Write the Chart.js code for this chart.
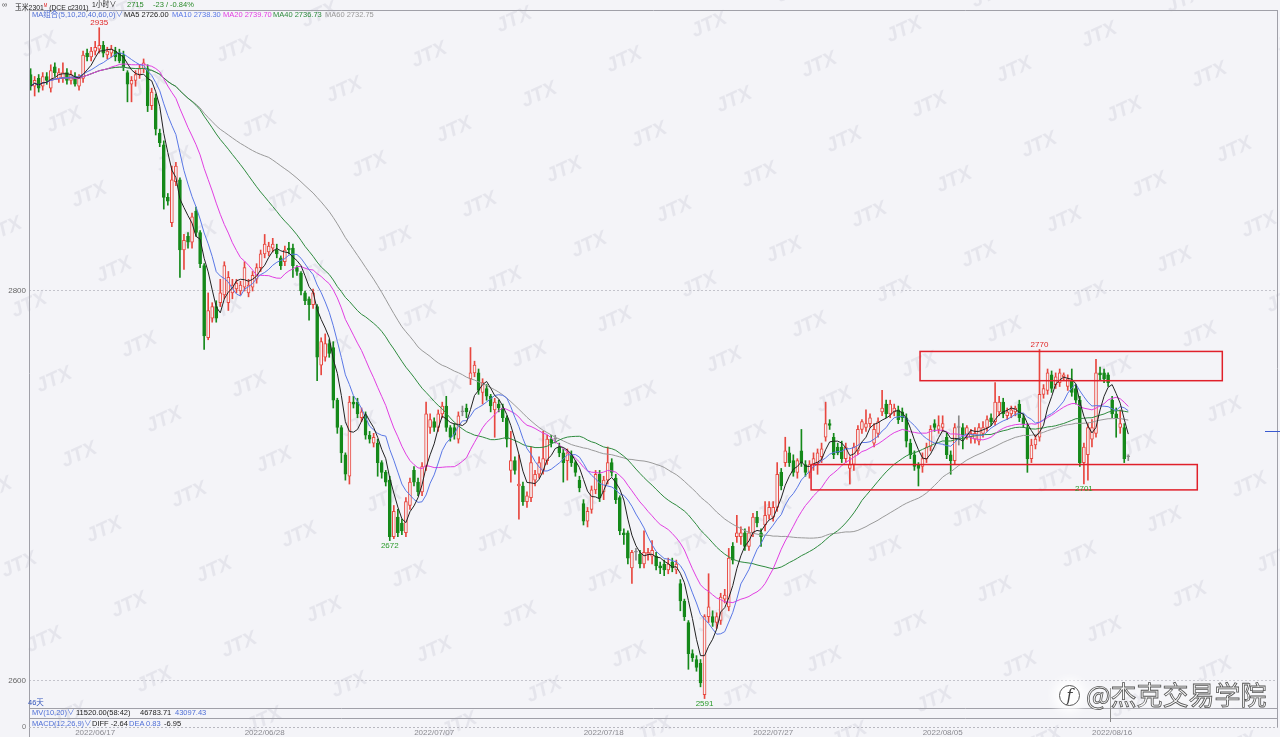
<!DOCTYPE html>
<html>
<head>
<meta charset="utf-8">
<script src="https://cdn.jsdelivr.net/npm/chart.js@4.4.0/dist/chart.umd.min.js"></script>
<style>
  html, body { margin: 0; padding: 0; background: #f4f4f8; overflow: hidden; }
  #wrap { position: relative; width: 1280px; height: 737px; }
  canvas { position: absolute; left: 0; top: 0; }
  .t { position: absolute; white-space: nowrap; font: 7.5px 'Liberation Sans', 'Noto Sans CJK SC', sans-serif; line-height: 10px; color: #222; }
  .sq { transform: scaleX(0.85); transform-origin: left center; font-size: 8px; }
  .blue { color: #4f6fd6; }
  .brand { position: absolute; left: 1086px; top: 679px; white-space: nowrap; font: 26px 'Noto Sans CJK SC', sans-serif; line-height: 30px;
           color: #f6f6f6; -webkit-text-stroke: 0.8px #555; text-shadow: 0 0 10px rgba(255,255,255,1); }
  .logo { position: absolute; left: 1059px; top: 685px; width: 19px; height: 19px; border: 1.5px solid #555; border-radius: 50%;
          background: #fff; box-shadow: 0 0 10px 6px rgba(255,255,255,0.9);
          font: italic 16px 'DejaVu Serif', serif; line-height: 19px; text-align: center; color: #444; }
</style>
</head>
<body>
<div id="wrap">
  <canvas id="kline" width="1280" height="737"></canvas>

  <div class="t" style="left:2px;top:0;color:#555">∞</div>
  <div class="t sq" style="left:15px;top:0">玉米2301<span style="color:#d22;font-size:5px;vertical-align:3px">M</span> (DCE c2301)</div>
  <div class="t sq" style="left:92px;top:0">1小时∨</div>
  <div class="t" style="left:127px;top:0;color:#2a8a2a">2715</div>
  <div class="t" style="left:153px;top:0;color:#2a8a2a">-23 / -0.84%</div>

  <div class="t blue" style="left:32px;top:10px">MA组合(5,10,20,40,60,0)∨</div>
  <div class="t" style="left:124px;top:10px">MA5 2726.00</div>
  <div class="t" style="left:172px;top:10px;color:#5a78e6">MA10 2738.30</div>
  <div class="t" style="left:223px;top:10px;color:#e23ee2">MA20 2739.70</div>
  <div class="t" style="left:273px;top:10px;color:#2e8b3e">MA40 2736.73</div>
  <div class="t" style="left:325px;top:10px;color:#999">MA60 2732.75</div>

  <div class="t" style="left:28px;top:698px;color:#3355bb">46天</div>
  <div class="t blue" style="left:32px;top:708px">MV(10,20)∨</div>
  <div class="t" style="left:76px;top:708px">11520.00(58:42)</div>
  <div class="t" style="left:140px;top:708px">46783.71</div>
  <div class="t blue" style="left:175px;top:708px">43097.43</div>
  <div class="t blue" style="left:32px;top:719px">MACD(12,26,9)∨</div>
  <div class="t" style="left:92px;top:719px">DIFF -2.64</div>
  <div class="t blue" style="left:129px;top:719px">DEA 0.83</div>
  <div class="t" style="left:164px;top:719px">-6.95</div>
  <div class="t" style="left:22px;top:722px;color:#777">0</div>

  <div class="logo">f</div>
  <div class="brand">@杰克交易学院</div>
</div>

<script>
// hourly bars, one entry per candle (index 0 = first bar on screen)
const opens = [
  2911,2905,2909,2905,2910,2904,2915,2909,2909,2912,
  2908,2910,2905,2909,2922,2920,2923,2924,2926,2921,
  2922,2923,2922,2921,2912,2906,2908,2911,2914,2914,
  2895,2899,2881,2875,2848,2835,2856,2857,2821,2828,
  2825,2841,2830,2813,2776,2786,2792,2794,2798,2794,
  2799,2801,2800,2802,2799,2802,2806,2812,2819,2820,
  2822,2821,2817,2815,2822,2822,2812,2809,2799,2796,
  2793,2792,2762,2766,2773,2771,2744,2730,2716,2705,
  2743,2743,2735,2736,2726,2722,2722,2712,2707,2703,
  2674,2684,2681,2676,2690,2708,2702,2697,2710,2730,
  2733,2730,2737,2741,2730,2730,2724,2738,2740,2755,
  2758,2758,2748,2750,2746,2739,2742,2740,2735,2708,
  2713,2700,2700,2692,2694,2703,2706,2708,2713,2724,
  2724,2720,2717,2713,2716,2712,2703,2691,2682,2688,
  2698,2706,2697,2703,2712,2704,2694,2676,2676,2658,
  2666,2665,2660,2665,2664,2664,2659,2660,2657,2661,
  2657,2650,2641,2630,2614,2611,2609,2593,2633,2633,
  2630,2631,2642,2638,2669,2674,2674,2676,2669,2676,
  2684,2676,2680,2685,2684,2689,2707,2712,2717,2713,
  2707,2718,2711,2707,2711,2712,2715,2725,2732,2725,
  2720,2720,2714,2709,2711,2718,2729,2730,2732,2722,
  2727,2738,2742,2737,2738,2739,2738,2735,2722,2716,
  2711,2710,2714,2720,2732,2729,2730,2725,2716,2713,
  2730,2730,2726,2725,2724,2723,2727,2730,2735,2733,
  2738,2743,2736,2737,2738,2742,2735,2730,2714,2721,
  2725,2747,2749,2757,2752,2753,2756,2751,2754,2750,
  2744,2712,2716,2724,2727,2758,2758,2757,2744,2737,2730,2730,2715
];
const highs = [
  2914,2910,2911,2912,2912,2916,2917,2914,2917,2914,
  2913,2912,2911,2923,2924,2925,2928,2935,2928,2925,
  2926,2925,2924,2923,2913,2910,2913,2916,2919,2916,
  2904,2901,2883,2877,2850,2864,2866,2858,2829,2830,
  2840,2843,2831,2814,2799,2794,2795,2806,2815,2810,
  2806,2806,2805,2815,2806,2810,2814,2821,2829,2825,
  2827,2824,2818,2823,2825,2824,2813,2810,2800,2797,
  2801,2793,2776,2778,2775,2774,2745,2731,2717,2746,
  2746,2745,2740,2738,2728,2727,2724,2713,2708,2705,
  2690,2688,2683,2694,2704,2710,2704,2712,2743,2737,
  2735,2739,2743,2746,2731,2732,2738,2741,2742,2771,
  2764,2760,2755,2752,2747,2745,2744,2742,2736,2728,
  2715,2716,2702,2697,2720,2708,2715,2728,2726,2726,
  2726,2722,2719,2719,2718,2713,2705,2693,2689,2700,
  2708,2708,2705,2720,2714,2706,2695,2678,2677,2667,
  2668,2667,2677,2668,2672,2666,2661,2662,2663,2663,
  2662,2652,2642,2631,2616,2613,2611,2634,2655,2636,
  2635,2645,2647,2668,2671,2685,2679,2678,2679,2686,
  2687,2678,2692,2692,2692,2712,2709,2725,2720,2716,
  2714,2729,2713,2713,2717,2719,2722,2743,2734,2727,
  2722,2723,2722,2715,2722,2731,2734,2739,2737,2732,
  2735,2749,2744,2744,2742,2741,2740,2737,2724,2718,
  2712,2717,2722,2731,2734,2736,2736,2727,2718,2732,
  2736,2732,2731,2729,2730,2732,2733,2736,2737,2753,
  2746,2745,2740,2741,2741,2744,2737,2732,2724,2726,
  2770,2752,2760,2759,2758,2760,2758,2757,2760,2752,
  2746,2722,2732,2734,2765,2761,2760,2758,2746,2740,2739,2732,2716
];
const lows = [
  2903,2900,2902,2903,2906,2902,2910,2907,2907,2906,
  2906,2905,2903,2907,2918,2918,2921,2922,2920,2919,
  2920,2918,2917,2913,2897,2897,2905,2909,2912,2892,
  2893,2880,2874,2842,2844,2833,2854,2807,2811,2822,
  2822,2828,2812,2770,2775,2784,2784,2792,2796,2790,
  2796,2799,2798,2800,2797,2800,2804,2810,2817,2818,
  2820,2817,2811,2813,2819,2807,2808,2798,2793,2785,
  2791,2754,2757,2764,2766,2740,2727,2712,2703,2701,
  2740,2735,2733,2724,2722,2720,2705,2704,2700,2672,
  2673,2674,2675,2674,2688,2700,2695,2695,2708,2727,
  2728,2728,2735,2728,2723,2724,2722,2736,2735,2752,
  2756,2747,2742,2744,2738,2725,2738,2733,2720,2702,
  2706,2683,2690,2689,2692,2700,2704,2706,2711,2720,
  2722,2715,2702,2703,2710,2705,2697,2680,2679,2686,
  2696,2692,2693,2701,2705,2691,2675,2670,2660,2650,
  2662,2658,2658,2662,2660,2657,2655,2654,2655,2656,
  2655,2636,2631,2606,2610,2605,2597,2591,2630,2628,
  2627,2629,2640,2636,2660,2671,2670,2667,2667,2674,
  2679,2669,2677,2683,2682,2687,2698,2710,2710,2705,
  2704,2710,2705,2704,2708,2706,2712,2723,2729,2714,
  2716,2712,2712,2701,2708,2716,2727,2728,2730,2720,
  2725,2736,2735,2735,2736,2732,2733,2720,2714,2708,
  2700,2707,2712,2718,2728,2727,2728,2714,2706,2711,
  2721,2719,2724,2722,2722,2721,2725,2728,2731,2731,
  2736,2735,2734,2735,2736,2733,2730,2707,2712,2719,
  2723,2745,2747,2748,2750,2751,2754,2749,2746,2742,
  2710,2701,2703,2720,2725,2754,2753,2751,2735,2725,2727,2712,2713
];
const closes = [
  2905,2908,2904,2910,2908,2913,2912,2912,2912,2908,
  2911,2906,2909,2921,2920,2923,2925,2926,2922,2923,
  2924,2920,2918,2915,2906,2908,2911,2914,2917,2895,
  2902,2883,2876,2848,2846,2857,2864,2821,2826,2825,
  2838,2830,2814,2777,2790,2792,2786,2799,2813,2807,
  2803,2804,2803,2812,2803,2808,2812,2819,2824,2823,
  2824,2819,2813,2821,2821,2813,2810,2800,2795,2793,
  2799,2766,2774,2773,2768,2744,2730,2717,2706,2743,
  2742,2737,2738,2726,2724,2725,2712,2707,2702,2674,
  2687,2676,2677,2692,2702,2702,2697,2710,2737,2734,
  2730,2737,2741,2730,2725,2726,2736,2738,2738,2758,
  2762,2749,2753,2746,2741,2743,2740,2735,2724,2713,
  2708,2701,2692,2695,2712,2706,2712,2714,2724,2722,
  2724,2717,2712,2717,2712,2707,2699,2682,2687,2698,
  2706,2694,2703,2712,2707,2693,2677,2675,2663,2666,
  2666,2660,2666,2666,2667,2659,2658,2657,2660,2658,
  2660,2641,2633,2614,2612,2607,2599,2633,2638,2630,
  2633,2643,2644,2663,2662,2676,2676,2669,2676,2684,
  2681,2674,2685,2689,2689,2706,2700,2718,2712,2707,
  2713,2712,2707,2711,2714,2717,2719,2732,2731,2716,
  2717,2714,2720,2711,2720,2729,2733,2732,2735,2729,
  2733,2740,2737,2742,2740,2734,2735,2723,2716,2710,
  2709,2714,2720,2729,2730,2731,2732,2716,2713,2730,
  2730,2726,2730,2727,2727,2730,2730,2734,2733,2743,
  2743,2737,2738,2739,2740,2735,2732,2714,2721,2724,
  2747,2750,2758,2750,2756,2758,2757,2755,2748,2744,
  2712,2720,2730,2730,2758,2757,2755,2753,2737,2735,2732,2714,2715
];

const dateIdx = [16, 58, 100, 142, 184, 226, 268];
const dateLabels = ['2022/06/17', '2022/06/28', '2022/07/07', '2022/07/18', '2022/07/27', '2022/08/05', '2022/08/16'];
const yTicks = [2600, 2800];
const maPeriods = [5, 10, 20, 40, 60];
const maColors = ['#222222', '#5a78e6', '#e23ee2', '#2e8b3e', '#9a9a9a'];

// bars whose high / low gets a price tag
const highMarks = [17, 250];
const lowMarks = [89, 167, 261];

// red zones drawn by hand on the chart (bar index / price)
const zones = [
  { i0: 220.4, i1: 295.3, top: 2769, bottom: 2754 },
  { i0: 193.4, i1: 289.1, top: 2711, bottom: 2698 }
];
const sideMark = 2728;
const cursorIdx = 267.5;

const UP = '#e8473f', DOWN = '#15891a', FLAT = '#8a8a8a';
const colorOf = i => closes[i] > opens[i] ? UP : (closes[i] < opens[i] ? DOWN : FLAT);

function movingAverage(n) {
  return closes.map((_, i) => {
    const from = Math.max(0, i - n + 1);
    let s = 0;
    for (let k = from; k <= i; k++) s += closes[k];
    return { x: i, y: s / (i - from + 1) };
  });
}

const bodies = opens.map((o, i) => ({ x: i, y: [o, closes[i]] }));
const wicks = lows.map((l, i) => ({ x: i, y: [l, highs[i]] }));

const decor = {
  id: 'decor',
  beforeDraw(chart) {
    const ctx = chart.ctx;
    ctx.save();
    ctx.fillStyle = '#f4f4f8';
    ctx.fillRect(0, 0, chart.width, chart.height);
    // faint JTX watermark grid
    ctx.fillStyle = '#e5e5ec';
    ctx.font = 'italic bold 20px "Liberation Sans"';
    for (let r = -25; r < 25; r++) {
      for (let c = -10; c < 12; c++) {
        const x = 65 + c * 195 + r * 110, y = 118 + c * 5 + r * 40;
        if (x < -40 || x > 1320 || y < -20 || y > 760) continue;
        ctx.save();
        ctx.translate(x, y);
        ctx.rotate(-0.42);
        ctx.fillText('JTX', -20, 7);
        ctx.restore();
      }
    }
    ctx.restore();
  },
  afterDraw(chart) {
    const ctx = chart.ctx;
    const xs = chart.scales.x, ys = chart.scales.y;
    const a = chart.chartArea;
    ctx.save();

    // frame
    ctx.strokeStyle = '#a0a0a8';
    ctx.lineWidth = 1;
    ctx.beginPath();
    ctx.moveTo(a.left + 0.5, 10); ctx.lineTo(a.left + 0.5, 737);
    ctx.moveTo(a.right - 0.5, 10); ctx.lineTo(a.right - 0.5, 727);
    ctx.moveTo(a.left, 10.5); ctx.lineTo(a.right, 10.5);
    ctx.moveTo(a.left, a.bottom + 0.5); ctx.lineTo(a.right, a.bottom + 0.5);
    ctx.moveTo(a.left, 718.5); ctx.lineTo(a.right, 718.5);
    ctx.stroke();
    ctx.setLineDash([2, 2]);
    ctx.strokeStyle = '#b8b8c0';
    ctx.beginPath();
    ctx.moveTo(a.left, 727.5); ctx.lineTo(a.right, 727.5);
    ctx.stroke();
    ctx.setLineDash([]);

    // cursor remnant
    const cx = Math.round(xs.getPixelForValue(cursorIdx)) + 0.5;
    ctx.strokeStyle = '#888';
    ctx.beginPath(); ctx.moveTo(cx, 688); ctx.lineTo(cx, 722); ctx.stroke();

    // right side marker
    const my = Math.round(ys.getPixelForValue(sideMark)) + 0.5;
    ctx.strokeStyle = '#3a5ad0';
    ctx.beginPath(); ctx.moveTo(1265, my); ctx.lineTo(1280, my); ctx.stroke();

    // zones
    ctx.strokeStyle = '#e0202a';
    ctx.lineWidth = 1.5;
    zones.forEach(z => {
      const x0 = xs.getPixelForValue(z.i0), x1 = xs.getPixelForValue(z.i1);
      const y0 = ys.getPixelForValue(z.top), y1 = ys.getPixelForValue(z.bottom);
      ctx.strokeRect(x0, y0, x1 - x0, y1 - y0);
    });

    // price tags
    ctx.font = '8px "Liberation Sans"';
    ctx.textAlign = 'center';
    ctx.fillStyle = '#e02828';
    ctx.textBaseline = 'bottom';
    highMarks.forEach(i => {
      ctx.fillText(String(highs[i]), xs.getPixelForValue(i), ys.getPixelForValue(highs[i]) - 1);
    });
    ctx.fillStyle = '#2a9a2a';
    ctx.textBaseline = 'top';
    lowMarks.forEach(i => {
      ctx.fillText(String(lows[i]), xs.getPixelForValue(i), ys.getPixelForValue(lows[i]) + 1);
    });
    ctx.restore();
  }
};

const datasets = [
  {
    type: 'bar', data: wicks, order: 3, grouped: false,
    barThickness: 1, borderWidth: 0,
    backgroundColor: ctx => colorOf(ctx.dataIndex)
  },
  {
    type: 'bar', data: bodies, order: 2, grouped: false,
    barThickness: 3, borderWidth: 1, borderSkipped: false, minBarLength: 1,
    borderColor: ctx => colorOf(ctx.dataIndex),
    backgroundColor: ctx => colorOf(ctx.dataIndex) === UP ? '#f6f2f4' : colorOf(ctx.dataIndex)
  }
].concat(maPeriods.map((n, k) => ({
  type: 'line', data: movingAverage(n), order: 1,
  borderColor: maColors[k], borderWidth: 1, pointRadius: 0, tension: 0, fill: false
})));

new Chart(document.getElementById('kline'), {
  type: 'bar',
  data: { datasets },
  plugins: [decor],
  options: {
    responsive: false,
    animation: false,
    events: [],
    layout: { padding: { left: 0, right: 2, top: 20, bottom: 0 } },
    plugins: { legend: { display: false }, tooltip: { enabled: false } },
    scales: {
      x: {
        type: 'linear', min: -0.4, max: 309.1, offset: false,
        grid: { display: false, drawTicks: false },
        border: { display: false },
        afterBuildTicks: s => { s.ticks = dateIdx.map(v => ({ value: v })); },
        afterFit: s => { s.height = 29; },
        ticks: {
          autoSkip: false, maxRotation: 0, padding: 20,
          color: '#8a8a90', font: { family: 'Liberation Sans', size: 8 },
          callback: v => dateLabels[dateIdx.indexOf(v)]
        }
      },
      y: {
        type: 'linear', min: 2586.15, max: 2938.97, beginAtZero: false,
        grid: { color: '#c4c4cc', drawTicks: false },
        border: { display: false, dash: [2, 2] },
        afterBuildTicks: s => { s.ticks = yTicks.map(v => ({ value: v })); },
        afterFit: s => { s.width = 29; },
        ticks: {
          padding: 3, color: '#666',
          font: { family: 'Liberation Sans', size: 8 },
          callback: v => String(v)
        }
      }
    }
  }
});
</script>
</body>
</html>
